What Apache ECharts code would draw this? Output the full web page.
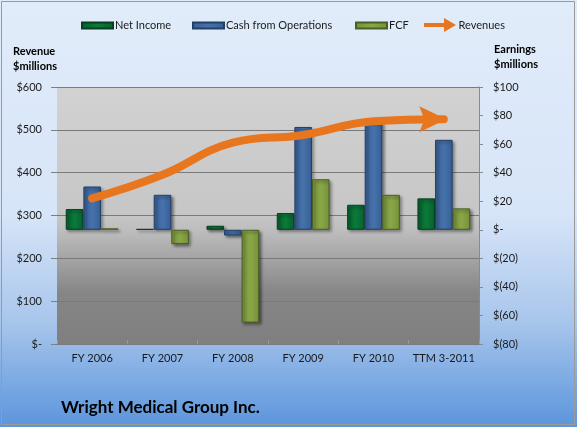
<!DOCTYPE html>
<html><head><meta charset="utf-8">
<script src="https://cdn.jsdelivr.net/npm/echarts@6/dist/echarts.min.js"></script>
<style>html,body{margin:0;padding:0;}#c{width:577px;height:427px;}</style>
</head><body><div id="c"></div>
<script>
var categories = ['FY 2006','FY 2007','FY 2008','FY 2009','FY 2010','TTM 3-2011'];
var netIncome = [14.5, 0.5, 2.8, 11.7, 17.5, 22];
var cashFromOps = [30.3, 24.5, -4, 72, 76, 63];
var fcf = [1, -10, -65, 35.4, 24.5, 15];
var revenues = [340, 395, 470, 488, 520, 525];
var leftTicks = {min: 0, max: 600, interval: 100};
var rightTicks = {min: -80, max: 100, interval: 20};

var FONT = 'Lato';
function vgrad(c1, c2) {
  return new echarts.graphic.LinearGradient(0,0,1,0,[{offset:0,color:c1},{offset:0.5,color:c2},{offset:1,color:c1}]);
}
var barColors = {
  ni: {fill: vgrad('#06602e', '#0b7a3b'), border: '#063e1e'},
  cfo: {fill: vgrad('#375f95', '#4672ab'), border: '#233f66'},
  fcf: {fill: vgrad('#76923a', '#8aa748'), border: '#4b5e23'}
};
function barSeries(name, data, c) {
  return {
    name: name, type: 'bar', yAxisIndex: 1, data: data,
    barGap: '0%', barCategoryGap: '25%',
    itemStyle: {color: c.fill, borderColor: c.border, borderWidth: 1,
      shadowBlur: 3, shadowColor: 'rgba(0,0,0,0.45)', shadowOffsetX: 2, shadowOffsetY: 2}
  };
}
var headPath = 'path://M0,0 L27,13 L0,26 L5,13 Z';
var revData = revenues.map(function (v, i) {
  if (i === revenues.length - 1) {
    return {value: v, symbol: headPath, symbolSize: [27, 26], symbolOffset: [-11, 0]};
  }
  return {value: v, symbol: 'none'};
});
var arrowPath = 'path://M0,5 L20,5 L20,0 L32,7 L20,14 L20,9 L0,9 Z';
function money(v) {
  if (v === 0) return '$-';
  if (v < 0) return '$(' + Math.abs(v) + ')';
  return '$' + v;
}
function legend(name, left, top, icon, w, h) {
  return {data: [name], left: left, top: top, itemWidth: w, itemHeight: h, icon: icon, itemGap: 0,
    selectedMode: false, textStyle: {fontFamily: FONT, fontSize: 11, color: '#1a1a1a', padding: [0,0,0,-3]}};
}
var chart = echarts.init(document.getElementById('c'));
chart.setOption({
  animation: false,
  backgroundColor: new echarts.graphic.LinearGradient(0,0,0,1,[
    {offset:0,color:'#e1ecfa'},{offset:0.5,color:'#d7e5f8'},{offset:0.75,color:'#a9c6ec'},{offset:1,color:'#5b95dc'}]),
  title: {text: 'Wright Medical Group Inc.', left: 56, top: 394,
    textStyle: {fontFamily: FONT, fontSize: 17, fontWeight: 'bold', color: '#000'}},
  legend: [
    legend('Net Income', 76, 15, 'rect', 31, 6),
    legend('Cash from Operations', 187, 15, 'rect', 31, 6),
    legend('FCF', 350, 15, 'rect', 31, 6),
    legend('Revenues', 419, 13, arrowPath, 33, 14)
  ],
  grid: {left: 57, right: 98, top: 87, bottom: 83, show: true, borderWidth: 0,
    backgroundColor: new echarts.graphic.LinearGradient(0,0,0,1,[
      {offset:0,color:'#d2d2d2'},{offset:0.5,color:'#c6c6c6'},{offset:0.56,color:'#bdbdbd'},
      {offset:0.8,color:'#868686'},{offset:1,color:'#7f7f7f'}])},
  xAxis: {type: 'category', data: categories,
    axisLine: {show: false},
    axisTick: {show: true, inside: true, length: 4, lineStyle: {color: '#999'}},
    axisLabel: {fontFamily: FONT, fontSize: 11, color: '#1a1a1a', margin: 9, interval: 0}},
  yAxis: [
    {type: 'value', min: leftTicks.min, max: leftTicks.max, interval: leftTicks.interval,
      axisLine: {show: false}, axisTick: {show: true, length: 6, lineStyle: {color: '#7f7f7f'}},
      splitLine: {show: true, lineStyle: {color: '#7a7a7a', width: 1}},
      axisLabel: {fontFamily: FONT, fontSize: 11, color: '#1a1a1a', margin: 15, formatter: money}},
    {type: 'value', min: rightTicks.min, max: rightTicks.max, interval: rightTicks.interval, position: 'right',
      axisLine: {show: true, lineStyle: {color: '#8a8a8a'}},
      axisTick: {show: true, length: 4, lineStyle: {color: '#8a8a8a'}},
      splitLine: {show: false},
      axisLabel: {fontFamily: FONT, fontSize: 11, color: '#1a1a1a', margin: 14, formatter: money}}
  ],
  graphic: [
    {type: 'text', left: 13, top: 44, style: {text: 'Revenue\n$millions', font: 'bold 11px ' + FONT, fill: '#000', lineHeight: 15}},
    {type: 'text', left: 494, top: 42, style: {text: 'Earnings\n$millions', font: 'bold 11px ' + FONT, fill: '#000', lineHeight: 15}},
    {type: 'rect', shape: {x: 1.5, y: 1.5, width: 573, height: 423}, style: {fill: 'none', stroke: '#9a9a9a', lineWidth: 1}, silent: true}
  ],
  series: [
    barSeries('Net Income', netIncome, barColors.ni),
    barSeries('Cash from Operations', cashFromOps, barColors.cfo),
    barSeries('FCF', fcf, barColors.fcf),
    {name: 'Revenues', type: 'line', yAxisIndex: 0, data: revData, smooth: 0.45,
      symbol: 'none', showSymbol: true, z: 5,
      lineStyle: {color: '#e8761e', width: 8, cap: 'round'},
      itemStyle: {color: '#e8761e'}}
  ]
});
</script></body></html>
